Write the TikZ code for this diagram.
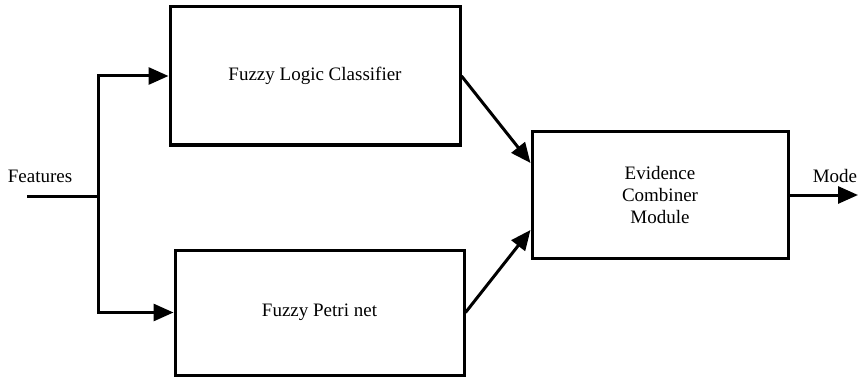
\documentclass[tikz,border=0pt]{standalone}
\usepackage{fontspec}
\setmainfont{Liberation Serif}
\usetikzlibrary{arrows.meta}
\begin{document}
\begin{tikzpicture}[x=1pt,y=-1pt,
  box/.style={draw, line width=3pt, rectangle, inner sep=0pt, align=center, font=\fontsize{19}{22}\selectfont},
  lbl/.style={font=\fontsize{19}{22}\selectfont, inner sep=0pt},
  conn/.style={line width=3pt},
  arr/.style={conn, -{Triangle[length=20pt,width=17pt]}}]
\useasboundingbox (0,0) rectangle (859,377);
\node[box, minimum width=290pt, minimum height=138pt] (flc) at (315,76) {Fuzzy Logic Classifier};
\node[box, minimum width=289pt, minimum height=125pt] (fpn) at (319.5,312.5) {Fuzzy Petri net};
\node[box, minimum width=256pt, minimum height=126pt] (ev) at (660,195) {Evidence\\Combiner\\Module};
\coordinate (fin) at (27,196);
\coordinate (junc) at (98,196);
\coordinate (mout) at (858,195);
\node[lbl] (feat) at (40,176) {Features};
\node[lbl] (mode) at (835,176) {Mode};
\draw[conn] (fin) -- (junc);
\draw[arr] (junc) |- (flc.west);
\draw[arr] (junc) |- (fpn.west);
\draw[arr] (flc.east) -- ([yshift=32pt]ev.west);
\draw[arr] (fpn.east) -- ([yshift=-35pt]ev.west);
\draw[arr] (ev.east) -- (mout);
\end{tikzpicture}
\end{document}
